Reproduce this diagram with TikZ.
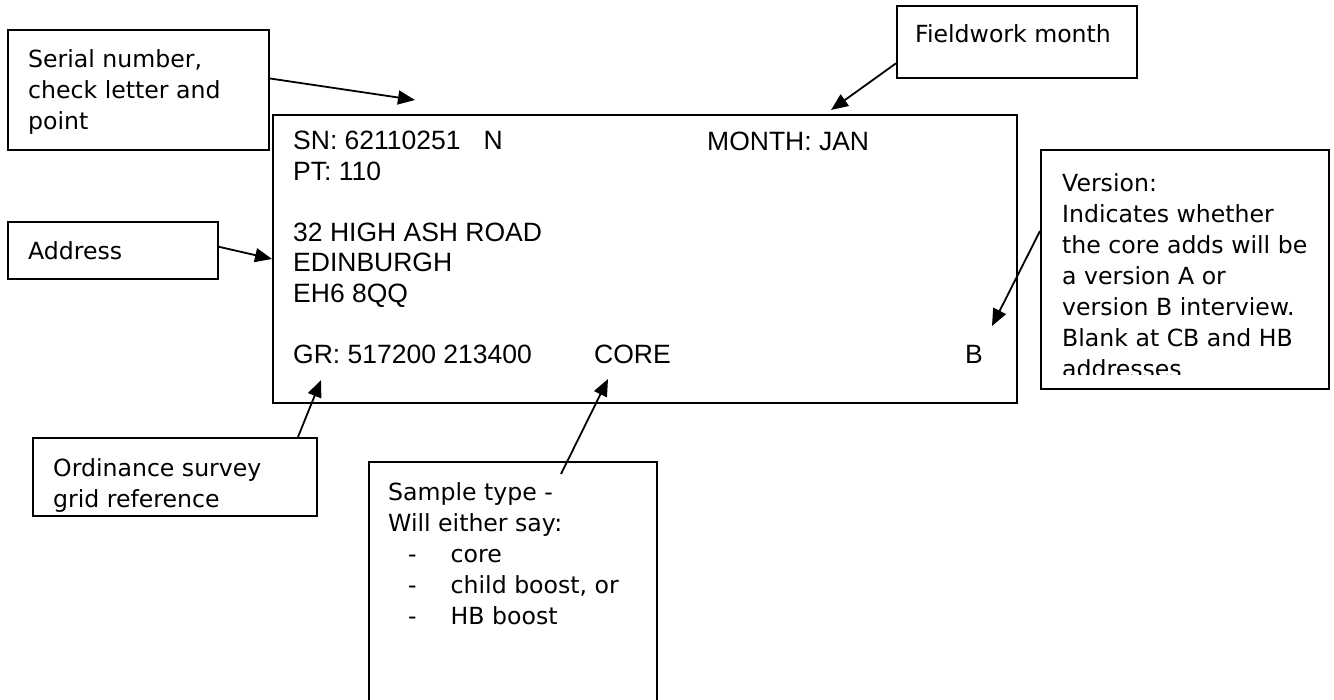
\documentclass[tikz,border=0pt]{standalone}
\usepackage{fontspec}
\setmainfont{Liberation Sans}
\newfontfamily\notefont{DejaVu Sans}
\usetikzlibrary{positioning,arrows.meta}

\begin{document}
\begin{tikzpicture}[x=1pt,y=-1pt,
        box/.style={rectangle,draw,line width=2pt,inner sep=0pt,anchor=north west},
        note/.style={font=\notefont\fontsize{23.6}{31}\selectfont,align=left,inner sep=0pt},
        rec/.style={font=\fontsize{26.5}{30.5}\selectfont,align=left,inner sep=0pt},
        pointer/.style={-{Triangle[length=17pt,width=14pt]},line width=1.8pt}]
  \useasboundingbox (0,0) rectangle (1334,700);

  % the address label
  \node[box,minimum width=744pt,minimum height=288pt] (label) at (272,114) {};
  \node[rec,below right=17pt and 21pt of label.north west] (labeltxt)
    {SN: 62110251\hspace{23pt}N\\PT: 110\\[30.5pt]32 HIGH ASH ROAD\\EDINBURGH\\EH6 8QQ\\[30.5pt]GR: 517200 213400};
  \node[rec,anchor=base west] (month) at (707,150.3) {MONTH: JAN};
  \node[rec,anchor=base west] (core) at (594,363.8) {CORE};
  \node[rec,anchor=base west] (ver) at (965,363.8) {B};

  % callouts
  \node[box,minimum width=261pt,minimum height=120pt] (serial) at (7,29) {};
  \node[note,below right=20pt and 21pt of serial.north west] (serialtxt)
    {Serial number,\\check letter and\\point};
  \node[box,minimum width=240pt,minimum height=72pt] (field) at (896,5) {};
  \node[note,below right=19pt and 19pt of field.north west] (fieldtxt) {Fieldwork month};
  \node[box,minimum width=210pt,minimum height=57pt] (address) at (7,221) {};
  \node[note,below right=20pt and 21pt of address.north west] (addresstxt) {Address};
  \node[box,minimum width=288pt,minimum height=239pt] (version) at (1040,149) {};
  \begin{scope}
    \clip (1040,149) rectangle (1328,375);
    \node[note,below right=24.7pt and 22pt of version.north west] (versiontxt)
      {Version:\\Indicates whether\\the core adds will be\\a version A or\\version B interview.\\Blank at CB and HB\\addresses};
  \end{scope}
  \node[box,minimum width=284pt,minimum height=78pt] (grid) at (32,437) {};
  \node[note,below right=21.7pt and 21pt of grid.north west] (gridtxt)
    {Ordinance survey\\grid reference};
  \node[box,minimum width=288pt,minimum height=260pt] (sample) at (368,461) {};
  \node[note,below right=21pt and 20pt of sample.north west] (sampletxt)
    {Sample type -\\Will either say:\\\hspace{20pt}-\hspace{34pt}core\\\hspace{20pt}-\hspace{34pt}child boost, or\\\hspace{20pt}-\hspace{34pt}HB boost};

  % where the arrows point
  \coordinate (snpt) at (415,100);
  \coordinate (mopt) at (831,110);
  \coordinate (grpt) at (321,380);
  \coordinate (copt) at (608,379);
  \coordinate (vept) at (992,326);

  \draw[pointer] (serial.5) -- (snpt);
  \draw[pointer] (field.190) -- (mopt);
  \draw[pointer] (address.2) -- (label.west);
  \draw[pointer] ([xshift=-20pt]grid.north east) -- (grpt);
  \draw[pointer] ([xshift=48pt,yshift=-13pt]sample.north) -- (copt);
  \draw[pointer] ([yshift=38.5pt]version.west) -- (vept);
\end{tikzpicture}
\end{document}
